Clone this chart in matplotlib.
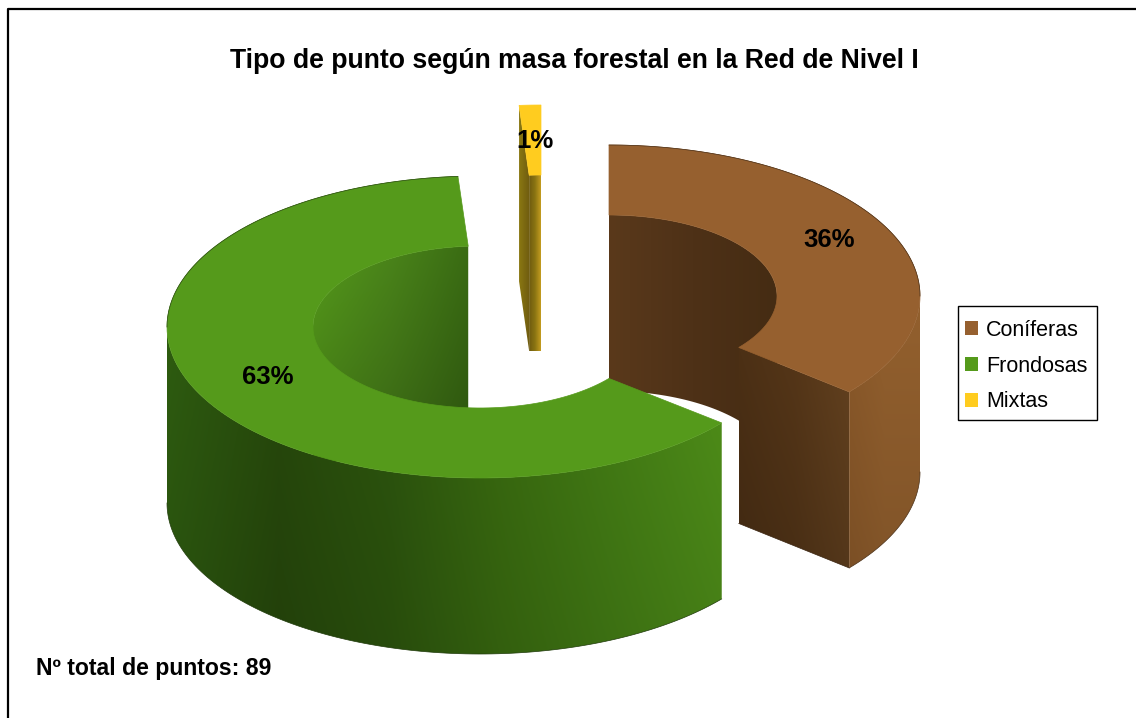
import numpy as np
import matplotlib
matplotlib.use('Agg')
from matplotlib import pyplot as plt
from matplotlib.colors import LinearSegmentedColormap
from matplotlib.patches import Polygon, Patch, Rectangle

plt.rcParams['font.family'] = ['Liberation Sans', 'DejaVu Sans']

labels = ['Coníferas', 'Frondosas', 'Mixtas']
counts = [32, 56, 1]
pct_labels = ['36%', '63%', '1%']
title = 'Tipo de punto según masa forestal en la Red de Nivel I'
note = 'Nº total de puntos: 89'
colors = ['#96602f', '#559a1b', '#ffcc1f']

fig = plt.figure(figsize=(11.36, 7.18), dpi=100)
ax = fig.add_axes([0, 0, 1, 1])
z = [2]


def arc(c, rx, ry, a0, a1, dy=0, n=120):
    t = np.radians(np.linspace(a0, a1, n))
    return np.column_stack([c[0] + rx * np.sin(t), c[1] - ry * np.cos(t) + dy])


def flat(verts, color):
    z[0] += 1
    ax.add_patch(Polygon(verts, fc=color, ec=color, lw=0.5, zorder=z[0]))


# horizontal colour ramp inside a polygon, getting darker downwards by fade
def grad(verts, cols, fade=1.0):
    z[0] += 1
    p = Polygon(verts, fc='none', ec='none', zorder=z[0])
    ax.add_patch(p)
    x0, x1 = verts[:, 0].min(), verts[:, 0].max()
    y0, y1 = verts[:, 1].min(), verts[:, 1].max()
    cm = LinearSegmentedColormap.from_list('g', cols)
    img = cm(np.linspace(0, 1, 256))[None, :, :3].repeat(128, axis=0)
    img = img * np.linspace(1, fade, 128)[:, None, None]
    im = ax.imshow(img, extent=(x0, x1, y1, y0), aspect='auto', zorder=z[0])
    im.set_clip_path(p)


def edge(verts, col):
    z[0] += 1
    ax.plot(verts[:, 0], verts[:, 1], color=col, lw=0.5, zorder=z[0])


# angles clockwise from 12 o'clock
edges = np.cumsum([0] + counts) / sum(counts) * 360
depth = 176
ry, ry_in = 151, 81

# coniferas
c = (609, 296)
a0, a1 = edges[0], edges[1]
rx, rx_in = 311, 168
wall = arc(c, rx_in, ry_in, a0, 90)
grad(np.vstack([wall, wall[::-1] + [0, depth]]), ['#5a391b', '#4e3117', '#452c13'])
p_in = arc(c, rx_in, ry_in, a1, a1, n=1)[0]
p_out = arc(c, rx, ry, a1, a1, n=1)[0]
grad(np.array([p_in, p_out, p_out + [0, depth], p_in + [0, depth]]),
     ['#4c3015', '#553618', '#63411f'], fade=0.85)
side = arc(c, rx, ry, 90, a1)
grad(np.vstack([side, side[::-1] + [0, depth]]), ['#8c5a2a', '#93602e', '#93602e'], fade=0.88)
flat(np.vstack([arc(c, rx, ry, a0, a1), arc(c, rx_in, ry_in, a1, a0)]), colors[0])
edge(arc(c, rx, ry, a0, 90), '#4a3018')
edge(arc(c, rx, ry, 90, a1, depth), '#4a3018')
edge(np.array([p_in + [0, depth], p_out + [0, depth]]), '#3a2410')

# mixtas
c = (541, 256)
a0, a1 = edges[2], edges[3]
p_in = arc(c, rx_in, ry_in, a0, a0, n=1)[0]
p_out = arc(c, rx, ry, a0, a0, n=1)[0]
grad(np.array([p_in, p_out, p_out + [0, depth], p_in + [0, depth]]), ['#8a7812', '#6e5a10'])
wall = arc(c, rx_in, ry_in, a0, a1)
grad(np.vstack([wall, wall[::-1] + [0, depth]]), ['#6e5a10', '#8a7412', '#c49c20'])
flat(np.vstack([arc(c, rx, ry, a0, a1), arc(c, rx_in, ry_in, a1, a0)]), colors[2])

# frondosas
c = (480, 327)
a0, a1 = edges[1], edges[2]
rx, rx_in = 313, 167
wall = arc(c, rx_in, ry_in, 270, a1)
grad(np.vstack([wall, wall[::-1] + [0, depth]]), ['#559a1b', '#4a841a', '#3a6c13'], fade=0.72)
side = arc(c, rx, ry, a0, 270)
grad(np.vstack([side, side[::-1] + [0, depth]]),
     ['#2e5c10', '#27490c', '#2d560e', '#3a6c10', '#447e15', '#4f8f19'], fade=0.88)
flat(np.vstack([arc(c, rx, ry, a0, a1), arc(c, rx_in, ry_in, a1, a0)]), colors[1])
edge(arc(c, rx, ry, 270, a1), '#2b4a12')
edge(arc(c, rx, ry, a0, 270, depth), '#1f3a0a')

# only the top and left of the chart border are in the picture
ax.plot([7.5, 7.5, 1136], [718, 9, 9], color='black', lw=1.6, zorder=50)
ax.text(574, 61, title, fontsize=19.2, fontweight='bold', ha='center', va='center', zorder=60)
ax.text(36, 669, note, fontsize=16.6, fontweight='bold', ha='left', va='center', zorder=60)
for (x, y), s in zip([(829, 240), (268, 377), (535, 141)], pct_labels):
    ax.text(x, y, s, fontsize=18.5, fontweight='bold', ha='center', va='center', zorder=60)

ax.add_patch(Rectangle((958, 306), 139, 114, fc='white', ec='black', lw=1, zorder=59))
handles = [Patch(fc=col, ec='none') for col in colors]
leg = ax.legend(handles, labels, loc='upper left', bbox_to_anchor=(957.5, 312),
                bbox_transform=ax.transData, fontsize=15.5, frameon=False,
                handlelength=0.6, handleheight=0.6,
                handletextpad=0.37, labelspacing=0.69, borderpad=0.36, borderaxespad=0)
leg.set_zorder(60)

ax.set_xlim(0, 1136)
ax.set_ylim(718, 0)
ax.axis('off')
fig.savefig('out.png', dpi=100)
